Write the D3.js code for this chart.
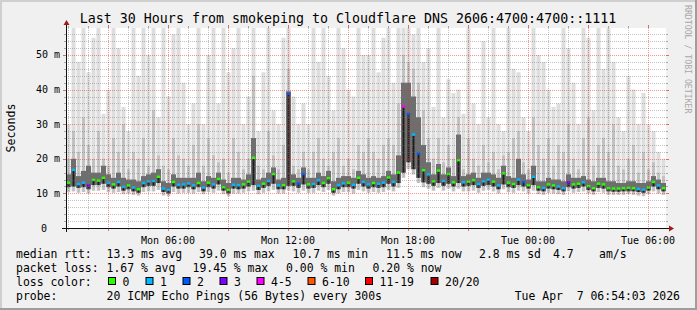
<!DOCTYPE html>
<html><head><meta charset="utf-8">
<script src="https://cdn.jsdelivr.net/npm/d3@7/dist/d3.min.js"></script>
<style>
html,body{margin:0;padding:0;background:#f0f0f0;}
svg{display:block;}
text{font-family:"DejaVu Sans Mono",monospace;white-space:pre;}
</style></head><body>
<svg id="c" width="697" height="310"></svg>
<script>
// ---------------- data ----------------
const title = "Last 30 Hours from smokeping to Cloudflare DNS 2606:4700:4700::1111";
const yTickValues = [0, 10, 20, 30, 40, 50];
const yTickLabels = ["0", "10 m", "20 m", "30 m", "40 m", "50 m"];
const xLabelFormat = "%a %H:%M";
// 15-minute columns, Mon 00:54 -> Tue 06:54 (values in ms)
const medianMs = [
 13.1,16.8,12.7,13.1,12.3,13.9,13.7,14.5,13.1,12.6,
 13.3,11.9,12.3,11.7,11.2,13.0,13.5,13.6,14.8,11.4,
 11.0,13.3,12.5,12.6,12.9,12.3,13.0,11.7,13.1,12.6,
 14.2,11.8,11.0,12.5,12.4,12.6,13.4,20.3,12.2,12.8,
 13.6,15.6,12.3,12.4,38.8,13.5,12.8,15.6,12.6,12.7,
 13.8,13.0,14.4,11.2,12.4,12.9,13.1,12.5,14.5,13.3,
 12.6,13.0,12.8,13.1,14.6,13.3,16.0,35.1,32.9,27.0,
 21.5,16.7,15.5,13.5,16.6,13.6,15.6,13.2,19.6,13.2,
 13.4,13.8,12.7,13.5,14.0,13.4,12.3,15.8,13.1,12.7,
 14.0,13.3,12.4,14.8,11.8,11.6,12.6,12.3,12.0,11.5,
 13.2,12.6,12.8,13.2,12.1,11.5,12.8,12.6,11.5,11.4,
 11.4,11.5,11.6,11.5,11.3,11.1,11.7,13.3,12.3,11.5];
const lossCount = [
 0,1,1,1,3,0,0,0,1,0, 1,1,0,1,0,1,1,1,0,1, 1,0,1,1,1,1,0,1,0,1,
 0,0,0,1,1,0,0,0,1,0, 1,0,1,0,2,0,2,2,0,1, 1,0,0,0,1,1,0,1,0,1,
 1,0,1,1,0,1,0,4,2,1, 2,0,1,0,0,1,0,0,0,1, 0,0,1,1,1,0,1,0,0,0,
 1,2,0,1,0,1,0,0,1,1, 3,0,0,1,0,0,0,0,0,0, 0,0,0,0,1,1,0,0,1,0];
const maxMs = [
 30,60,48,60,45,55,60,33,40,60, 52,35,28,60,44,60,50,60,32,60, 38,56,60,42,30,36,60,30,50,60,
 36,60,45,52,60,30,38,60,28,45, 60,34,30,55,60,38,30,36,30,60, 48,60,44,34,60,52,40,38,60,50,
 50,60,45,55,60,42,60,60,60,56, 60,48,52,35,60,32,43,39,40,33, 60,36,30,54,32,60,30,28,60,46,
 45,32,28,60,50,48,40,35,36,60, 52,42,30,60,55,34,60,46,58,48, 32,28,44,40,30,39,30,28,22,20];
const upperMs = [
 20,28,22,32,24,20,28,20,18,26, 22,30,17,22,20,26,18,34,21,18, 17,26,21,20,18,24,30,18,26,21,
 19,20,16,26,22,17,20,44,18,17, 28,21,17,24,46,18,17,22,17,22, 26,20,18,22,26,18,20,17,24,22,
 26,22,20,24,26,24,36,50,48,46, 42,34,26,20,26,19,24,20,32,17, 26,20,18,24,19,22,17,21,22,26,
 28,19,17,32,24,20,26,18,24,22, 30,20,17,26,32,18,24,26,22,30, 18,17,20,24,16,22,17,19,16,15];
const darkMs = [
 15.5,20,15,16.5,18,16,16,18,15.5,14.5, 16,14.5,14,14,13.5,15,15.5,16,17,13.5,
 13,15.5,14.5,14.5,14.5,14.5,16,13.5,15,14.5, 16,14,13,14.5,14.5,14,15.5,26,14,14.5,
 16,17.5,14,14.5,39.5,15.5,14.5,17.5,14.5,14.5, 16,15,16.5,13.5,14.5,15,15,14.5,16.5,15.5,
 14.5,15,14.5,15,16.5,15.5,21,42,42,38, 32,24,19,15.5,18.5,15.5,17.5,15,27,15,
 15.5,16,14.5,16,16,15.5,14.5,18,15,14.5, 20,15.5,14,18,13.5,13.5,14.5,14,14,13.5,
 15.5,14.5,14.5,15,14,13.5,14.5,14.5,13.5,13.5, 13,13,13.5,13.5,13,13,13.5,15,14,13];
const minMs = [
 10.4,10.6,10.2,10.4,10.0,10.8,10.8,11.0,10.4,10.2, 10.4,9.8,10.0,9.6,9.4,10.4,10.6,10.6,11.0,9.4,
 9.2,10.4,10.0,10.2,10.2,10.0,10.4,9.8,10.4,10.2, 10.8,9.8,9.2,10.0,10.0,10.2,10.6,10.8,9.8,10.2,
 10.6,11.0,10.0,10.0,10.8,10.6,10.2,10.8,10.2,10.2, 10.8,10.4,11.0,9.4,10.0,10.4,10.4,10.0,11.0,10.6,
 10.2,10.4,10.2,10.4,11.0,10.6,11.6,14.5,17.0,15.5, 13.0,11.8,11.4,10.8,11.6,10.8,11.4,10.6,11.4,10.6,
 10.6,10.8,10.2,10.8,11.0,10.6,10.0,11.2,10.4,10.2, 10.8,10.6,10.0,10.8,9.8,9.6,10.2,10.0,9.8,9.6,
 10.6,10.2,10.4,10.6,10.0,9.6,10.4,10.2,9.6,9.6, 9.6,9.6,9.8,9.6,9.4,9.2,9.8,10.6,10.0,9.6];
const darkLoMs = [
 11.8,12.0,11.6,11.8,11.2,12.4,12.4,12.8,11.8,11.4, 12.0,10.8,11.2,10.6,10.2,11.8,12.2,12.2,13.0,10.4,
 10.0,12.0,11.4,11.4,11.8,11.2,11.8,10.6,11.8,11.4, 12.6,10.8,10.0,11.4,11.2,11.4,12.0,12.4,11.0,11.6,
 12.2,12.8,11.2,11.2,12.2,12.2,11.6,12.6,11.4,11.6, 12.4,11.8,12.8,10.2,11.2,11.8,11.8,11.4,12.8,12.0,
 11.4,11.8,11.6,11.8,12.8,12.0,13.0,16.0,19.0,17.0, 14.5,13.2,12.8,12.2,13.0,12.2,12.8,12.0,13.0,12.0,
 12.2,12.4,11.6,12.2,12.4,12.0,11.2,12.6,11.8,11.6, 12.4,12.0,11.4,12.4,10.8,10.6,11.4,11.2,11.0,10.6,
 11.8,11.4,11.6,12.0,11.0,10.6,11.6,11.4,10.6,10.5, 10.5,10.6,10.6,10.6,10.4,10.2,10.8,12.0,11.2,10.6];
const lossLabels = ["0", "1", "2", "3", "4-5", "6-10", "11-19", "20/20"];
const lossUpper = [0, 1, 2, 3, 5, 10, 19, 20];
const lossColors = ["#26ff00", "#00b8ff", "#0059ff", "#7e00ff", "#ff00ff", "#ff5500", "#ff0000", "#a10000"];
const legendRtt = [["median rtt:", 16], ["13.3 ms avg", 106.5], ["39.0 ms max", 199], ["10.7 ms min", 292.5], ["11.5 ms now", 386], ["2.8 ms sd", 479], ["4.7", 553], ["am/s", 599]];
const legendLoss = [["packet loss:", 16], ["1.67 % avg", 106.5], ["19.45 % max", 192.5], ["0.00 % min", 286], ["0.20 % now", 372.5]];
const lossSwatchX = [108, 145.5, 182.5, 219.5, 256.5, 307.5, 365, 430.5];
const probeText = "20 ICMP Echo Pings (56 Bytes) every 300s";
const dateText = "Tue Apr  7 06:54:03 2026";

// ---------------- drawing ----------------
const W = 697, H = 310;
const L = 66, R = 666, T = 28, B = 228;
const svg = d3.select("#c");
svg.append("rect").attr("width", W).attr("height", H).attr("fill", "#f0f0f0");
svg.append("rect").attr("x", 0).attr("y", 0).attr("width", W).attr("height", 2).attr("fill", "#cfcfcf");
svg.append("rect").attr("x", 0).attr("y", 0).attr("width", 2).attr("height", H).attr("fill", "#cfcfcf");
svg.append("rect").attr("x", 0).attr("y", H - 2).attr("width", W).attr("height", 2).attr("fill", "#9e9e9e");
svg.append("rect").attr("x", W - 2).attr("y", 0).attr("width", 2).attr("height", H).attr("fill", "#9e9e9e");

const startT = new Date(2026, 3, 6, 0, 54, 3);
const endT = new Date(2026, 3, 7, 6, 54, 3);
const x = d3.scaleTime().domain([startT, endT]).range([L, R]);
const y = d3.scaleLinear().domain([0, 57.8]).range([B, T]);

svg.append("rect").attr("x", L).attr("y", T).attr("width", R - L).attr("height", B - T).attr("fill", "#ffffff");
svg.append("clipPath").attr("id", "clip").append("rect").attr("x", L).attr("y", T).attr("width", R - L).attr("height", B - T);
const plot = svg.append("g").attr("clip-path", "url(#clip)");

const cols = medianMs.map((m, i) => ({
  t0: d3.timeMinute.offset(startT, 15 * i),
  t1: d3.timeMinute.offset(startT, 15 * (i + 1)),
  med: m, loss: lossCount[i], max: maxMs[i], up: upperMs[i], dk: darkMs[i], min: minMs[i], dlo: darkLoMs[i]
}));

// smoke bands; frac = share of the column width that the band occupies
function band(lo, hi, fill, frac) {
  plot.append("g").selectAll("rect").data(cols).join("rect")
    .attr("x", d => { const a = x(d.t0), b = x(d.t1); return (a + b) / 2 - (b - a) * frac / 2; })
    .attr("width", d => (x(d.t1) - x(d.t0)) * frac)
    .attr("y", d => y(d[hi])).attr("height", d => Math.max(0, y(d[lo]) - y(d[hi])))
    .attr("fill", fill);
}
band("min", "max", "#dedede", 0.8);
band("min", "up", "#c0c0c0", 0.55);
band("dlo", "dk", "#6e6e6e", 1);
// darkest streak
plot.append("g").selectAll("rect").data(cols).join("rect")
  .attr("x", d => (x(d.t0) + x(d.t1)) / 2 - 1).attr("width", 2)
  .attr("y", d => y(d.med)).attr("height", d => Math.max(0, y(d.dlo) - y(d.med)))
  .attr("fill", "#1e1e1e");
// median coloured by loss
function lossColor(l) { for (let k = 0; k < lossUpper.length; k++) if (l <= lossUpper[k]) return lossColors[k]; return lossColors[lossColors.length - 1]; }
plot.append("g").selectAll("rect").data(cols).join("rect")
  .attr("x", d => (x(d.t0) + x(d.t1)) / 2 - 1.75).attr("width", 3.5)
  .attr("y", d => y(d.med) - 1.25).attr("height", 2.5)
  .attr("fill", d => lossColor(d.loss));

// grid
const gridG = svg.append("g");
const minorY = d3.range(0, 57.8, 2).filter(v => v % 10 !== 0);
const majorY = yTickValues.filter(v => v > 0);
gridG.selectAll(".gy").data(minorY).join("line")
  .attr("x1", L).attr("x2", R).attr("y1", d => Math.round(y(d)) + 0.5).attr("y2", d => Math.round(y(d)) + 0.5)
  .attr("stroke", "rgba(120,120,120,0.45)").attr("stroke-dasharray", "1,1");
gridG.selectAll(".gyt").data(minorY).join("path")
  .attr("d", d => { const yy = Math.round(y(d)) + 0.5; return `M${L - 2},${yy}H${L}M${R},${yy}H${R + 2}`; })
  .attr("stroke", "rgba(120,120,120,0.6)");
gridG.selectAll(".gY").data(majorY).join("line")
  .attr("x1", L).attr("x2", R).attr("y1", d => Math.round(y(d)) + 0.5).attr("y2", d => Math.round(y(d)) + 0.5)
  .attr("stroke", "rgba(222,48,48,0.5)").attr("stroke-dasharray", "1,1");
gridG.selectAll(".gYt").data(majorY).join("path")
  .attr("d", d => { const yy = Math.round(y(d)) + 0.5; return `M${L - 3},${yy}H${L}M${R},${yy}H${R + 3}`; })
  .attr("stroke", "rgba(222,48,48,0.7)");
const hours = d3.timeHour.every(1).range(startT, endT);
const minorX = hours.filter(h => h.getHours() % 3 !== 0);
const majorX = hours.filter(h => h.getHours() % 3 === 0);
gridG.selectAll(".gx").data(minorX).join("line")
  .attr("x1", d => Math.round(x(d)) + 0.5).attr("x2", d => Math.round(x(d)) + 0.5).attr("y1", T).attr("y2", B)
  .attr("stroke", "rgba(120,120,120,0.45)").attr("stroke-dasharray", "1,1");
gridG.selectAll(".gxt").data(minorX).join("path")
  .attr("d", d => { const xx = Math.round(x(d)) + 0.5; return `M${xx},${T - 2}V${T}M${xx},${B}V${B + 2}`; })
  .attr("stroke", "rgba(120,120,120,0.6)");
gridG.selectAll(".gX").data(majorX).join("line")
  .attr("x1", d => Math.round(x(d)) + 0.5).attr("x2", d => Math.round(x(d)) + 0.5).attr("y1", T).attr("y2", B)
  .attr("stroke", "rgba(222,48,48,0.5)").attr("stroke-dasharray", "1,1");
gridG.selectAll(".gXt").data(majorX).join("path")
  .attr("d", d => { const xx = Math.round(x(d)) + 0.5; return `M${xx},${T - 3}V${T}M${xx},${B}V${B + 3}`; })
  .attr("stroke", "rgba(222,48,48,0.7)");

// axes
svg.append("path").attr("d", `M${L - 4},${B + 0.5}H${R + 4}`).attr("stroke", "#101010").attr("stroke-width", 1);
svg.append("path").attr("d", `M${L + 0.5},${B + 4}V${T - 4}`).attr("stroke", "#101010").attr("stroke-width", 1);
svg.append("path").attr("d", `M${R + 3},${B - 2.5}L${R + 8},${B + 0.5}L${R + 3},${B + 3.5}Z`).attr("fill", "#a11a1a");
svg.append("path").attr("d", `M${L - 2.5},${T - 3}L${L + 0.5},${T - 8}L${L + 3.5},${T - 3}Z`).attr("fill", "#a11a1a");

// axis labels
const xLabels = d3.timeHour.every(6).range(startT, d3.timeMinute.offset(endT, 1)).filter(h => h.getHours() % 6 === 0);
const fmt = d3.timeFormat(xLabelFormat);
svg.append("g").selectAll("text").data(xLabels).join("text")
  .attr("x", d => x(d)).attr("y", 244).attr("text-anchor", "middle")
  .attr("font-size", "10px").attr("fill", "#000").text(d => fmt(d));
svg.append("g").selectAll("text").data(yTickValues).join("text")
  .attr("x", d => d === 0 ? 47 : 60).attr("y", d => y(d) + 3.5).attr("text-anchor", "end")
  .attr("font-size", "10px").attr("fill", "#000").text((d, i) => yTickLabels[i]);

// title and side texts
svg.append("text").attr("x", 348).attr("y", 23).attr("text-anchor", "middle")
  .attr("font-size", "13.3px").attr("fill", "#000").text(title);
svg.append("text").attr("transform", "translate(15,128) rotate(-90)").attr("text-anchor", "middle")
  .attr("font-size", "11.6px").attr("fill", "#000").text("Seconds");
svg.append("text").attr("transform", "translate(685,5) rotate(90)").attr("text-anchor", "start")
  .attr("font-size", "8.2px").attr("fill", "#a8a8a8").text("RRDTOOL / TOBI OETIKER");

// legend
const lg = svg.append("g").attr("font-size", "11.45px").attr("fill", "#000");
lg.selectAll(".r1").data(legendRtt).join("text").attr("x", d => d[1]).attr("y", 257.5).text(d => d[0]);
lg.selectAll(".r2").data(legendLoss).join("text").attr("x", d => d[1]).attr("y", 271.5).text(d => d[0]);
lg.append("text").attr("x", 16).attr("y", 285.5).text("loss color:");
lg.selectAll(".sw").data(lossColors).join("rect")
  .attr("x", (d, i) => lossSwatchX[i] + 0.5).attr("y", 277.5).attr("width", 7).attr("height", 7)
  .attr("fill", d => d).attr("stroke", "#000").attr("stroke-width", 1);
lg.selectAll(".sl").data(lossLabels).join("text")
  .attr("x", (d, i) => lossSwatchX[i] + 14.5).attr("y", 285.5).text(d => d);
lg.append("text").attr("x", 16).attr("y", 299.5).text("probe:");
lg.append("text").attr("x", 106.5).attr("y", 299.5).text(probeText);
lg.append("text").attr("x", 680).attr("y", 299.5).attr("text-anchor", "end").text(dateText);
</script>
</body></html>
